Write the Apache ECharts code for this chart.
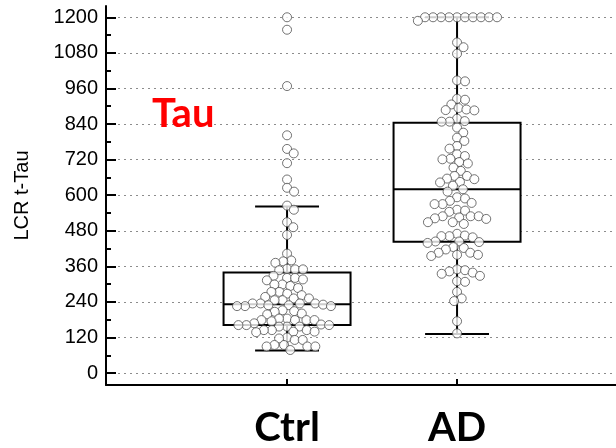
<!DOCTYPE html>
<html><head><meta charset="utf-8">
<script src="https://cdn.jsdelivr.net/npm/echarts@6/dist/echarts.min.js"></script>
<style>html,body{margin:0;padding:0;background:#fff}#c{width:616px;height:448px}</style>
</head><body><div id="c"></div>
<script>
const categories = ['Ctrl', 'AD'];
const yTicks = [0, 120, 240, 360, 480, 600, 720, 840, 960, 1080, 1200];
const yMinorTicks = [60, 180, 300, 420, 540, 660, 780, 900, 1020, 1140];
// [lower whisker, Q1, median, Q3, upper whisker]
const ctrlBox = [76, 162, 232, 339, 562];
const adBox = [132, 443, 620, 844, 1200];
const ctrlValues = [1200, 1158, 968, 802, 756, 741, 708, 653, 625, 612, 565, 551, 509, 492, 466, 403,
  380, 377, 372, 352, 350, 350, 347, 328, 321, 321, 316, 313, 299, 299, 294, 287, 274, 274, 268, 263,
  257, 252, 252, 246, 246, 235, 235, 235, 235, 231, 229, 229, 226, 226, 226, 212, 209, 207, 201, 198,
  184, 184, 179, 179, 179, 179, 175, 168, 164, 162, 162, 162, 157, 157, 157, 145, 145, 145, 140, 140,
  138, 120, 117, 112, 112, 95, 95, 90, 90, 90, 78];
const adValues = [1200, 1200, 1200, 1200, 1200, 1200, 1200, 1200, 1200, 1200, 1188, 1115, 1099, 1077,
  987, 984, 925, 922, 906, 894, 889, 887, 886, 858, 850, 848, 848, 828, 811, 794, 783, 766, 757, 738,
  732, 723, 721, 712, 707, 693, 682, 665, 665, 656, 654, 645, 643, 632, 620, 612, 593, 589, 581, 574,
  570, 570, 551, 548, 544, 529, 529, 529, 525, 522, 520, 509, 509, 503, 470, 464, 462, 462, 458, 444,
  444, 442, 439, 425, 422, 417, 406, 406, 399, 399, 395, 350, 347, 343, 339, 335, 328, 310, 308, 274,
  252, 243, 175, 134];

const chart = echarts.init(document.getElementById('c'), null, {renderer: 'canvas'});
const black = '#000';
const ptStyle = {color: '#fff', borderColor: '#505050', borderWidth: 1};
const option = {
  animation: false,
  backgroundColor: '#fff',
  title: {text: 'Tau', left: 152, top: 94, padding: 0,
    textStyle: {fontSize: 40, fontWeight: 'bold', color: '#ff0000', fontFamily: 'Lato'}},
  grid: {left: 106, right: 0, top: 6, bottom: 61, containLabel: false},
  xAxis: {type: 'value', min: -0.065, max: 2.935,
    axisLine: {show: true, onZero: false, lineStyle: {color: black, width: 2}},
    axisTick: {show: true, inside: true, length: 6, customValues: [1, 2], lineStyle: {color: black, width: 2}},
    axisLabel: {customValues: [1, 2], formatter: v => categories[Math.round(v) - 1],
      fontSize: 40, fontWeight: 'bold', fontFamily: 'Lato', color: black, margin: 23},
    splitLine: {show: false}},
  yAxis: [{type: 'value', min: -40, max: 1238, position: 'left',
    name: 'LCR t-Tau', nameLocation: 'middle', nameGap: 74,
    nameTextStyle: {fontSize: 20, color: black, fontFamily: 'Liberation Sans'},
    axisLine: {show: true, onZero: false, lineStyle: {color: black, width: 2}},
    axisTick: {show: true, inside: true, length: 10, customValues: yTicks, lineStyle: {color: black, width: 2}},
    axisLabel: {customValues: yTicks, formatter: v => String(v), fontSize: 20, color: black,
      fontFamily: 'Liberation Sans', margin: 8},
    splitLine: {show: true, lineStyle: {color: '#8c8c8c', type: [2, 4], width: 1}}},
  {type: 'value', min: -40, max: 1238, position: 'left',
    axisLine: {show: false, onZero: false},
    axisTick: {show: true, inside: true, length: 5, customValues: yMinorTicks, lineStyle: {color: black, width: 2}},
    axisLabel: {show: false}, splitLine: {show: false}}],
  series: [
    {type: 'custom', id: 'boxes', z: 2, silent: true,
      data: [[1].concat(ctrlBox), [2].concat(adBox)],
      encode: {x: 0, y: [1, 2, 3, 4, 5]},
      renderItem: (params, api) => {
        const x = api.value(0);
        const p = k => api.coord([x, api.value(k)]);
        const lw = p(1), q1 = p(2), med = p(3), q3 = p(4), uw = p(5);
        const unit = api.size([1, 0])[0];
        const hb = 0.3735 * unit, hc = 0.188 * unit;
        const cx = lw[0];
        const line = (x1, y1, x2, y2) => ({type: 'line', shape: {x1, y1, x2, y2}, style: {stroke: black, lineWidth: 2}});
        return {type: 'group', children: [
          line(cx, uw[1], cx, q3[1]), line(cx, q1[1], cx, lw[1]),
          line(cx - hc, uw[1], cx + hc, uw[1]), line(cx - hc, lw[1], cx + hc, lw[1]),
          {type: 'rect', shape: {x: cx - hb, y: q3[1], width: 2 * hb, height: q1[1] - q3[1]},
            style: {fill: '#fff', stroke: black, lineWidth: 2}},
          line(cx - hb, med[1], cx + hb, med[1])
        ]};
      }},
    {type: 'scatter', id: 'ctrlPts', z: 3, silent: true, symbol: 'circle', symbolSize: 9,
      itemStyle: ptStyle, data: ctrlValues.map(v => [1, v])},
    {type: 'scatter', id: 'adPts', z: 3, silent: true, symbol: 'circle', symbolSize: 9,
      itemStyle: ptStyle, data: adValues.map(v => [2, v])}
  ]
};
chart.setOption(option);

function beeswarm(pys, d) {
  const order = pys.map((y, i) => i).sort((a, b) => pys[a] - pys[b]);
  const placed = [];
  const xs = new Array(pys.length);
  for (const i of order) {
    const y = pys[i];
    const near = placed.filter(q => Math.abs(q.y - y) < d);
    const cands = [0];
    near.forEach(q => {
      const w = Math.sqrt(d * d - (q.y - y) * (q.y - y));
      cands.push(q.x - w, q.x + w);
    });
    cands.sort((a, b) => (Math.abs(a) - Math.abs(b)) || (b - a));
    let x = 0;
    for (const c of cands) {
      if (near.every(q => (q.x - c) * (q.x - c) + (q.y - y) * (q.y - y) >= d * d - 1e-6)) { x = c; break; }
    }
    placed.push({x, y});
    xs[i] = x;
  }
  return xs;
}
function swarm(values, groupX, seriesIndex) {
  const finder = {seriesIndex};
  const pts = values.map(v => chart.convertToPixel(finder, [groupX, v]));
  const xs = beeswarm(pts.map(p => p[1]), 8);
  return values.map((v, i) => [chart.convertFromPixel(finder, [pts[i][0] + xs[i], pts[i][1]])[0], v]);
}
chart.setOption({series: [
  {id: 'ctrlPts', data: swarm(ctrlValues, 1, 1)},
  {id: 'adPts', data: swarm(adValues, 2, 2)}
]});
</script></body></html>
